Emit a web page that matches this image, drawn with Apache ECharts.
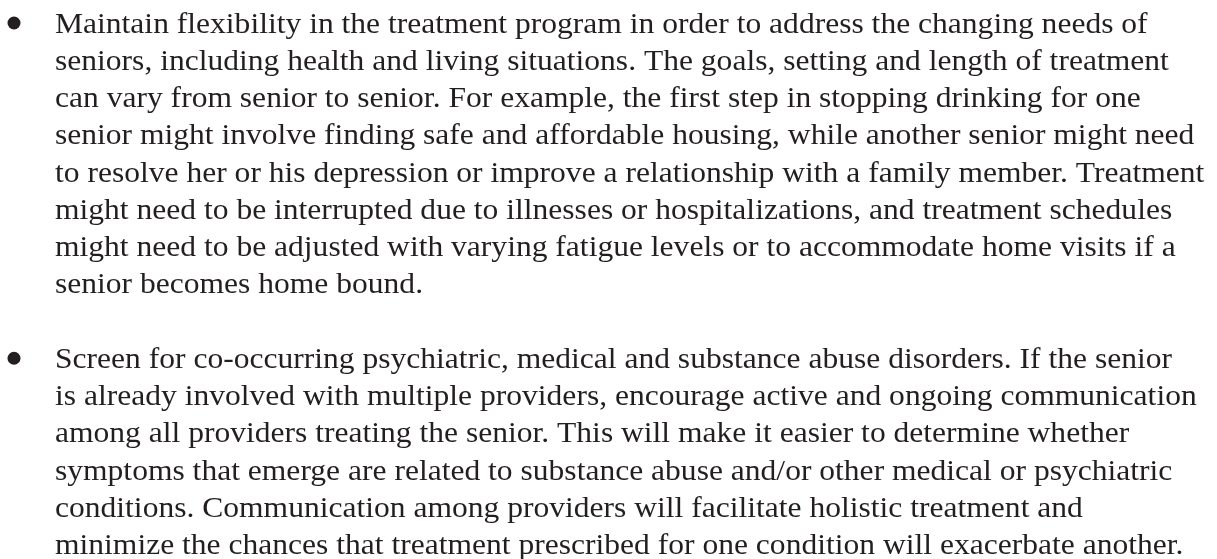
<!DOCTYPE html>
<html>
<head>
<meta charset="utf-8">
<script src="https://cdn.jsdelivr.net/npm/echarts@6/dist/echarts.min.js"></script>
<style>
  html, body { margin: 0; padding: 0; background: #ffffff; }
  #main { width: 1217px; height: 559px; }
</style>
</head>
<body>
<div id="main"></div>
<script>
// 两段要点文字, 每个数组一行一项
let bullet1Lines = [
    'Maintain flexibility in the treatment program in order to address the changing needs of',
    'seniors, including health and living situations. The goals, setting and length of treatment',
    'can vary from senior to senior. For example, the first step in stopping drinking for one',
    'senior might involve finding safe and affordable housing, while another senior might need',
    'to resolve her or his depression or improve a relationship with a family member. Treatment',
    'might need to be interrupted due to illnesses or hospitalizations, and treatment schedules',
    'might need to be adjusted with varying fatigue levels or to accommodate home visits if a',
    'senior becomes home bound.'
];

let bullet2Lines = [
    'Screen for co-occurring psychiatric, medical and substance abuse disorders. If the senior',
    'is already involved with multiple providers, encourage active and ongoing communication',
    'among all providers treating the senior. This will make it easier to determine whether',
    'symptoms that emerge are related to substance abuse and/or other medical or psychiatric',
    'conditions. Communication among providers will facilitate holistic treatment and',
    'minimize the chances that treatment prescribed for one condition will exacerbate another.'
];

let paragraphs = [bullet1Lines, bullet2Lines];

// 排版参数 (原图字距偏宽, 所以用 scaleX 稍微拉宽)
let fontSize = 29;
let stretchX = 1.088;
let lineGap = 37.25;
let firstBaseline = 31;
let textLeft = 55;
let bulletX = 14;
let textColor = '#231f20';

let myChart = echarts.init(document.getElementById('main'), null, { renderer: 'canvas' });

let elements = [];
let row = 0;
for (let p = 0; p < paragraphs.length; p++) {
    let lines = paragraphs[p];
    // 圆点
    elements.push({
        type: 'circle',
        shape: { cx: bulletX, cy: firstBaseline + row * lineGap - 8, r: 6.5 },
        style: { fill: textColor }
    });
    for (let i = 0; i < lines.length; i++) {
        elements.push({
            type: 'text',
            x: textLeft,
            y: firstBaseline + row * lineGap + 8.5,
            scaleX: stretchX,
            style: {
                text: lines[i],
                font: fontSize + 'px "Liberation Serif", "Times New Roman", serif',
                fill: textColor,
                align: 'left',
                verticalAlign: 'bottom'
            }
        });
        row++;
    }
    // 段落之间空一行
    row++;
}

let option = {
    backgroundColor: '#ffffff',
    animation: false,
    graphic: { elements: elements }
};

myChart.setOption(option);
</script>
</body>
</html>
